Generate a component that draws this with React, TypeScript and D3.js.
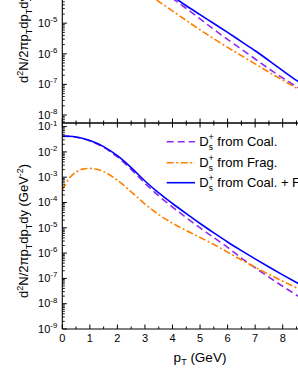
import React from 'react';
import * as d3 from 'd3';

const W = 298;
const H = 385;

// bottom panel (log10 of dN)
const pTBottom = [0, 0.25, 0.5, 0.75, 1, 1.5, 2, 2.5, 3, 3.5, 4, 4.5, 5, 5.5, 6, 6.5, 7, 7.5, 8, 8.5, 9];
const totalBottomLog = [-1.37, -1.38, -1.41, -1.47, -1.55, -1.79, -2.15, -2.62, -3.15, -3.62, -4.04, -4.44, -4.83, -5.2, -5.56, -5.9, -6.23, -6.55, -6.86, -7.16, -7.45];
const coalBottomLog = [-1.375, -1.385, -1.42, -1.48, -1.57, -1.82, -2.2, -2.69, -3.24, -3.74, -4.18, -4.6, -5.0, -5.39, -5.77, -6.2, -6.58, -6.95, -7.31, -7.66, -8.0];
const fragBottomLog = [-3.51, -3.05, -2.8, -2.68, -2.65, -2.78, -3.12, -3.58, -4.06, -4.48, -4.82, -5.11, -5.38, -5.66, -5.96, -6.27, -6.56, -6.84, -7.11, -7.37, -7.62];

// top panel (log10 of dN), only the visible part
const pTTop = [3, 3.5, 4, 4.5, 5, 5.5, 6, 6.5, 7, 7.5, 8, 8.5, 9];
const totalTopLog = [-3.5, -3.82, -4.12, -4.43, -4.72, -5.01, -5.3, -5.6, -5.9, -6.22, -6.55, -6.87, -7.15];
const coalTopLog = [-3.55, -3.88, -4.19, -4.52, -4.86, -5.2, -5.53, -5.85, -6.17, -6.49, -6.79, -7.07, -7.33];
const fragTopLog = [-3.98, -4.29, -4.6, -4.91, -5.22, -5.51, -5.79, -6.06, -6.33, -6.6, -6.86, -7.12, -7.37];

const xTickValues = [0, 1, 2, 3, 4, 5, 6, 7, 8, 9, 10];
const legendLabels = [' from Coal.', ' from Frag.', ' from Coal. + Frag.'];

const FONT = "'Liberation Sans', Arial, Helvetica, sans-serif";
const COAL = '#8f2bf0';
const FRAG = '#ff8000';
const TOTAL = '#0000ff';
const COAL_DASH = '7,4';
const FRAG_DASH = '7,2.5,2,2.5';

function logTicks(scale: any) {
  const [d0, d1] = scale.domain();
  const lo = Math.log10(d0);
  const hi = Math.log10(d1);
  const majors: number[] = [];
  const minors: number[] = [];
  for (let k = Math.floor(lo); k <= Math.ceil(hi); k++) {
    const v = Math.pow(10, k);
    if (k >= lo - 1e-9 && k <= hi + 1e-9) majors.push(k);
    for (let m = 2; m <= 9; m++) {
      const lv = Math.log10(m * v);
      if (lv >= lo && lv <= hi) minors.push(m * v);
    }
  }
  return { majors, minors };
}

function Panel({ x, y, pT, series, showXLabels, x0, x1 }: any) {
  const [yb, yt] = y.range();
  const { majors, minors } = logTicks(y);
  const line = (vals: number[]) =>
    d3
      .line<number>()
      .x((_, i) => x(pT[i]))
      .y((v) => y(Math.pow(10, v)))
      .curve(d3.curveMonotoneX)(vals) as string;
  const xMinor = d3.range(0.5, 10, 1);
  return (
    <g>
      <defs>
        <clipPath id={`clip-${Math.round(yb)}`}>
          <rect x={x0} y={yt} width={x1 - x0} height={yb - yt} />
        </clipPath>
      </defs>
      <g clipPath={`url(#clip-${Math.round(yb)})`}>
        {series.map((s: any, i: number) => (
          <path
            key={i}
            d={line(s.vals)}
            fill="none"
            stroke={s.color}
            strokeWidth={1.6}
            strokeDasharray={s.dash}
          />
        ))}
      </g>
      {/* frame */}
      <line x1={x0} x2={x0} y1={yt} y2={yb} stroke="#000" strokeWidth={1.1} />
      <line x1={x0} x2={x1} y1={yb} y2={yb} stroke="#000" strokeWidth={1.1} />
      <line x1={x0} x2={x1} y1={yt} y2={yt} stroke="#000" strokeWidth={1.1} />
      {/* y ticks */}
      {majors.map((k) => (
        <g key={'M' + k}>
          <line x1={x0} x2={x0 + 4.5} y1={y(Math.pow(10, k))} y2={y(Math.pow(10, k))} stroke="#000" strokeWidth={1} />
          <text x={x0 - 5} y={y(Math.pow(10, k)) + 3.8} fontSize={11} fontFamily={FONT} textAnchor="end">
            10<tspan dy={-4.8} fontSize={7.8}>{'-' + Math.abs(k)}</tspan>
          </text>
        </g>
      ))}
      {minors.map((v, i) => (
        <line key={'m' + i} x1={x0} x2={x0 + 2.5} y1={y(v)} y2={y(v)} stroke="#000" strokeWidth={0.9} />
      ))}
      {/* x ticks bottom (inward) and top (inward) */}
      {xTickValues.map((t) => (
        <g key={'x' + t}>
          <line x1={x(t)} x2={x(t)} y1={yb} y2={yb - 4.5} stroke="#000" strokeWidth={1} />
          <line x1={x(t)} x2={x(t)} y1={yt} y2={yt + 4.5} stroke="#000" strokeWidth={1} />
          {showXLabels && (
            <text x={x(t)} y={yb + 13} fontSize={11} fontFamily={FONT} textAnchor="middle">
              {t}
            </text>
          )}
        </g>
      ))}
      {xMinor.map((t) => (
        <g key={'xm' + t}>
          <line x1={x(t)} x2={x(t)} y1={yb} y2={yb - 2.5} stroke="#000" strokeWidth={1} />
          <line x1={x(t)} x2={x(t)} y1={yt} y2={yt + 2.5} stroke="#000" strokeWidth={1} />
        </g>
      ))}
    </g>
  );
}

function YTitle({ tx, ty }: { tx: number; ty: number }) {
  return (
    <text transform={`translate(${tx},${ty}) rotate(-90)`} fontSize={13} fontFamily={FONT}>
      d<tspan dy={-5.5} fontSize={9}>2</tspan>
      <tspan dy={5.5}>N/2πp</tspan>
      <tspan dy={3.5} fontSize={9}>T</tspan>
      <tspan dy={-3.5}>dp</tspan>
      <tspan dy={3.5} fontSize={9}>T</tspan>
      <tspan dy={-3.5}>dy (GeV</tspan>
      <tspan dy={-5.5} fontSize={9}>-2</tspan>
      <tspan dy={5.5}>)</tspan>
    </text>
  );
}

export default function App() {
  const x0 = 62.3;
  const x1 = 337.8;
  const x = d3.scaleLinear().domain([0, 10]).range([x0, x1]);
  const yTop = d3
    .scaleLog()
    .domain([Math.pow(10, -8.2614), Math.pow(10, -0.8)])
    .range([123, 123 - 30.6 * 7.4614]);
  const yBot = d3
    .scaleLog()
    .domain([1e-9, Math.pow(10, -0.858)])
    .range([329, 123]);

  const legendRows = [
    { color: COAL, dash: COAL_DASH, label: legendLabels[0], y: 141.7 },
    { color: FRAG, dash: FRAG_DASH, label: legendLabels[1], y: 162.7 },
    { color: TOTAL, dash: undefined, label: legendLabels[2], y: 182.7 },
  ];

  return (
    <div style={{ position: 'absolute', left: 0, top: 0, width: W, height: H, background: '#fff' }}>
      <svg width={W} height={H} style={{ display: 'block' }}>
        <rect width={W} height={H} fill="#fff" />
        <Panel
          x={x}
          y={yTop}
          pT={pTTop}
          x0={x0}
          x1={x1}
          showXLabels={false}
          series={[
            { vals: coalTopLog, color: COAL, dash: COAL_DASH },
            { vals: fragTopLog, color: FRAG, dash: FRAG_DASH },
            { vals: totalTopLog, color: TOTAL, dash: undefined },
          ]}
        />
        <Panel
          x={x}
          y={yBot}
          pT={pTBottom}
          x0={x0}
          x1={x1}
          showXLabels={true}
          series={[
            { vals: coalBottomLog, color: COAL, dash: COAL_DASH },
            { vals: fragBottomLog, color: FRAG, dash: FRAG_DASH },
            { vals: totalBottomLog, color: TOTAL, dash: undefined },
          ]}
        />
        {legendRows.map((r, i) => (
          <g key={i}>
            <line x1={166.7} x2={195} y1={r.y} y2={r.y} stroke={r.color} strokeWidth={1.6} strokeDasharray={r.dash} />
            <text x={199.3} y={r.y + 4.5} fontSize={13} fontFamily={FONT}>
              D<tspan dy={4} fontSize={8.5}>s</tspan>
              <tspan dy={-10} dx={-4.5} fontSize={9}>+</tspan>
              <tspan dy={6}>{r.label}</tspan>
            </text>
          </g>
        ))}
        <YTitle tx={28} ty={83} />
        <YTitle tx={28} ty={298} />
        <text x={200} y={362} fontSize={13.5} fontFamily={FONT} textAnchor="middle">
          p<tspan dy={3} fontSize={9}>T</tspan>
          <tspan dy={-3}> (GeV)</tspan>
        </text>
      </svg>
    </div>
  );
}
